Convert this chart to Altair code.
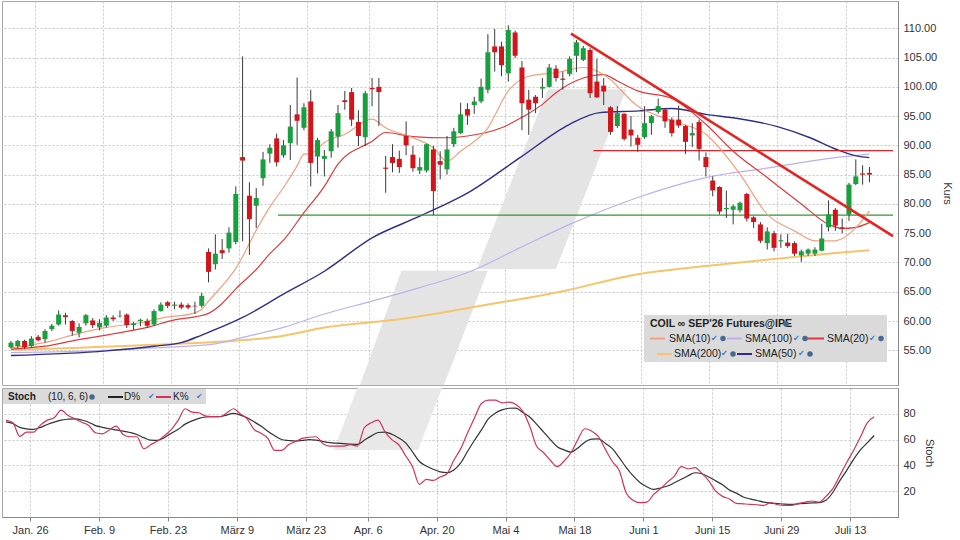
import json
import altair as alt
import pandas as pd

# ------------------------------------------------------------------ data
# trading-day index (0 = first candle); gridlines sit half a day before the labelled date
tick_days = [3.5, 13.5, 23.5, 33.5, 43.5, 52.5, 62.5, 72.5, 82.5, 92.5, 102.5, 112.5, 122.5]
tick_labels = ["Jan. 26", "Feb. 9", "Feb. 23", "März 9", "März 23", "Apr. 6", "Apr. 20",
               "Mai 4", "Mai 18", "Juni 1", "Juni 15", "Juni 29", "Juli 13"]

opens = [55.5, 55.7, 56.6, 55.7, 57.3, 56.9, 58.6, 59.4, 61.0, 60.0,
         58.0, 59.6, 60.1, 58.9, 59.2, 60.6, 60.8, 61.1, 59.3, 60.0,
         60.0, 59.4, 61.7, 63.2, 62.6, 62.8, 62.7, 62.6, 62.6, 71.8,
         69.7, 72.1, 72.4, 73.5, 88.0, 81.4, 79.7, 84.4, 88.6, 91.2,
         88.3, 90.4, 95.3, 93.0, 97.5, 88.1, 87.7, 89.0, 91.5, 97.7,
         99.1, 94.0, 91.4, 99.8, 100.0, 86.2, 88.0, 87.7, 91.6, 88.4,
         85.7, 85.7, 89.3, 87.3, 85.9, 90.2, 92.1, 96.2, 96.9, 97.5,
         99.5, 106.9, 106.9, 102.3, 109.3, 103.3, 97.8, 98.3, 99.7, 100.0,
         103.1, 101.4, 102.2, 105.3, 104.6, 106.3, 100.9, 100.2, 96.5, 93.3,
         95.4, 92.7, 91.3, 91.4, 93.8, 95.7, 96.1, 94.4, 94.4, 93.3,
         91.7, 94.0, 88.0, 84.0, 82.9, 79.1, 79.0, 78.9, 81.7, 77.7,
         76.5, 73.3, 75.0, 73.6, 73.4, 73.3, 71.2, 71.5, 71.5, 72.0,
         76.0, 79.0, 76.0, 78.2, 83.4, 85.2, 85.3]
highs = [56.6, 56.8, 56.8, 57.4, 57.6, 58.6, 59.5, 61.8, 61.4, 60.2,
         59.6, 61.2, 60.5, 60.3, 61.0, 61.0, 61.8, 61.3, 59.8, 60.4,
         60.4, 62.0, 63.2, 63.4, 63.3, 63.2, 63.0, 63.3, 64.8, 72.4,
         74.8, 74.0, 76.0, 83.0, 105.2, 83.7, 82.7, 88.9, 90.2, 92.0,
         90.9, 96.9, 101.6, 97.2, 99.5, 91.3, 89.2, 92.8, 96.9, 99.3,
         99.8, 96.0, 99.3, 101.5, 101.5, 88.2, 90.2, 89.1, 94.1, 89.9,
         87.9, 90.3, 89.9, 89.0, 91.6, 93.0, 97.3, 97.2, 98.3, 101.4,
         109.0, 109.9, 107.7, 110.5, 109.6, 104.4, 99.5, 98.6, 101.5, 103.9,
         103.7, 102.6, 105.2, 108.0, 107.0, 106.6, 104.8, 101.5, 96.7, 96.7,
         95.5, 95.0, 91.8, 96.7, 95.2, 98.0, 96.4, 94.8, 96.8, 93.5,
         93.8, 94.4, 88.8, 84.7, 83.0, 82.3, 79.9, 80.4, 81.9, 77.9,
         76.9, 76.0, 75.4, 74.8, 74.9, 73.6, 72.2, 72.4, 72.6, 76.6,
         80.6, 79.3, 77.5, 83.6, 87.6, 86.6, 86.3]
lows = [55.3, 55.4, 55.2, 55.5, 56.5, 56.3, 58.3, 59.2, 59.4, 57.5,
        57.2, 59.2, 58.8, 58.4, 58.9, 60.0, 60.6, 58.8, 58.5, 59.1,
        58.8, 59.1, 61.6, 62.2, 62.0, 62.0, 62.0, 61.2, 62.3, 66.6,
        68.8, 70.6, 71.7, 73.1, 73.6, 71.3, 75.9, 83.1, 87.0, 86.4,
        87.9, 87.5, 90.1, 92.6, 83.0, 85.2, 84.7, 87.9, 89.6, 96.1,
        93.3, 89.9, 89.9, 96.7, 93.3, 81.9, 85.4, 85.3, 88.3, 85.5,
        85.1, 85.4, 78.1, 84.2, 85.0, 89.7, 91.9, 93.5, 95.4, 97.2,
        98.9, 102.6, 101.8, 100.9, 104.9, 92.6, 91.8, 95.5, 98.1, 99.9,
        100.9, 99.5, 101.8, 102.5, 104.4, 98.1, 98.1, 96.9, 91.8, 93.0,
        90.8, 89.8, 88.9, 91.1, 91.8, 95.4, 93.0, 91.5, 93.0, 88.5,
        89.7, 87.4, 84.7, 81.3, 78.2, 77.6, 76.5, 78.5, 77.0, 75.9,
        73.3, 72.2, 71.9, 72.5, 72.5, 71.1, 70.1, 71.1, 71.1, 71.9,
        75.3, 75.4, 75.0, 77.1, 83.2, 83.3, 83.7]
closes = [56.3, 56.6, 55.5, 57.0, 56.7, 58.3, 59.2, 61.1, 60.7, 58.3,
          59.0, 61.0, 59.3, 59.7, 60.6, 60.3, 60.9, 59.3, 59.6, 60.2,
          59.2, 61.7, 62.8, 62.6, 62.8, 62.3, 62.3, 62.5, 64.3, 68.4,
          71.5, 71.6, 75.1, 81.7, 87.4, 77.4, 81.0, 87.6, 89.6, 87.1,
          90.0, 93.2, 94.2, 96.5, 87.0, 90.9, 88.2, 92.4, 95.5, 97.4,
          94.4, 91.6, 98.9, 99.6, 99.1, 86.0, 87.0, 86.3, 90.0, 86.1,
          86.3, 90.2, 82.2, 86.7, 89.3, 92.4, 95.3, 95.1, 97.5, 100.0,
          105.9, 105.9, 103.7, 109.7, 105.3, 97.2, 96.1, 97.2, 100.0, 103.3,
          101.5, 101.2, 104.8, 107.6, 106.6, 98.9, 98.2, 99.2, 92.3, 95.5,
          91.1, 91.7, 90.1, 93.8, 95.0, 96.7, 94.1, 92.1, 93.4, 90.6,
          92.1, 89.4, 86.3, 82.3, 78.7, 79.3, 79.6, 80.2, 77.5, 76.9,
          73.7, 75.3, 72.5, 73.8, 72.8, 71.5, 71.9, 72.2, 72.2, 74.1,
          78.2, 76.3, 75.8, 83.3, 84.7, 85.0, 85.0]

# moving averages at sample days
sma10_day = [0, 6, 9, 14, 19, 22, 27, 28, 29, 31, 33, 34, 36, 38, 40, 42, 43, 44, 46, 49, 53, 55,
             59, 62, 64, 66, 70, 73, 76, 80, 84, 87, 92, 97, 102, 107, 111, 115, 118, 121, 124, 126]
sma10_val = [55.4, 56.6, 57.6, 58.9, 59.7, 60.5, 61.4, 62.0, 63.4, 66.0, 69.0, 71.0, 75.5, 79.5,
             82.8, 86.5, 88.5, 88.6, 90.5, 91.9, 94.5, 93.0, 91.3, 89.6, 87.3, 89.0, 93.0, 99.3,
             101.8, 102.4, 103.3, 102.1, 96.7, 94.2, 91.9, 85.1, 78.2, 75.4, 73.7, 73.7, 75.9, 78.8]
sma20_day = [0, 5, 9, 14, 20, 24, 27, 29, 31, 33, 36, 38, 40, 43, 46, 48, 53, 55, 59, 64, 67, 72,
             75, 78, 80, 84, 87, 89, 92, 97, 102, 106, 111, 116, 120, 122, 124, 126]
sma20_val = [55.2, 55.7, 56.6, 57.6, 58.9, 60.2, 60.7, 61.3, 63.0, 65.5, 68.8, 71.5, 73.8, 78.5,
             83.0, 86.8, 90.7, 92.2, 91.5, 91.3, 91.6, 93.0, 94.8, 97.0, 99.0, 101.5, 102.1, 101.0,
             99.3, 98.0, 93.6, 89.0, 84.5, 80.0, 76.5, 75.8, 76.0, 76.8]
sma50_day = [0, 14, 21, 25, 28, 34, 40, 46, 53, 60, 67.5, 74.7, 82, 86.4, 92.2, 97, 102, 106.7,
             112.5, 117.3, 121.2, 124.1, 126]
sma50_val = [54.1, 54.9, 55.7, 56.3, 57.6, 60.6, 64.6, 68.5, 74.2, 77.9, 82.2, 87.9, 93.6, 95.6,
             95.9, 96.3, 95.3, 94.6, 93.2, 91.3, 89.3, 88.2, 87.9]
sma100_day = [0, 14, 21, 30, 34, 40, 46, 53, 60, 67.5, 74.7, 82, 92, 102, 111.5, 121, 126]
sma100_val = [54.6, 55.0, 55.4, 56.1, 57.2, 58.9, 61.2, 63.4, 65.7, 68.5, 72.5, 76.5, 81.1, 84.5,
              86.2, 87.9, 88.5]
sma200_day = [0, 9, 20, 30, 40, 46, 57, 69, 81, 92, 102, 112, 121, 126]
sma200_val = [55.1, 55.4, 55.9, 56.4, 57.5, 58.9, 60.3, 62.6, 65.1, 68.0, 69.4, 70.6, 71.6, 72.1]

# stochastic (10, 6, 6), one value per trading day
k_pct = [75, 73, 62.5, 65.8, 65.8, 71.2, 75.1, 76.9, 82.8, 78.7,
         76.1, 73.5, 71.0, 65.3, 64.5, 67.5, 70.5, 64.0, 62.2, 62.2,
         52.9, 56.0, 59.0, 63.0, 68.0, 75.1, 83.9, 81.3, 80.8, 78.2,
         77.8, 77.7, 80.5, 83.9, 80.0, 76.0, 67.9, 65.0, 61.0, 51.6,
         51.6, 56.0, 58.5, 60.9, 61.8, 62.2, 56.8, 55.0, 55.0, 55.0,
         56.0, 55.0, 69.2, 73.0, 75.1, 66.0, 60.0, 56.0, 47.5, 39.0,
         25.3, 29.2, 28.4, 31.0, 33.5, 44.0, 53.0, 65.3, 77.0, 88.0,
         90.6, 90.6, 88.5, 89.0, 87.2, 82.1, 70.5, 55.0, 50.0, 44.0,
         39.0, 43.4, 49.8, 60.1, 68.4, 66.6, 62.2, 52.4, 43.0, 36.0,
         18.8, 13.0, 11.1, 11.5, 17.5, 22.0, 27.0, 31.7, 39.0, 37.4,
         38.2, 33.8, 28.0, 20.0, 16.0, 14.0, 10.6, 10.2, 9.8, 9.5,
         9.0, 11.1, 9.5, 9.0, 9.0, 10.6, 11.5, 12.4, 11.5, 16.0,
         22.0, 32.0, 42.0, 51.5, 62.0, 73.0, 77.7]
d_pct = [73.8, 72.5, 69.5, 68.3, 67.9, 69.5, 71.7, 73.5, 75.1, 75.8,
         76.1, 75.2, 73.5, 70.8, 69.5, 68.4, 67.5, 66.6, 65.5, 64.0,
         61.5, 59.6, 59.4, 61.5, 65.0, 68.0, 72.0, 74.5, 76.5, 77.5,
         77.8, 77.7, 79.0, 80.3, 79.0, 76.9, 73.8, 70.5, 66.5, 63.0,
         60.1, 59.3, 58.8, 59.3, 60.0, 59.6, 58.5, 57.6, 57.2, 56.9,
         56.5, 56.3, 59.5, 62.7, 65.5, 65.8, 64.2, 61.3, 57.5, 50.5,
         43.0, 39.5, 37.0, 35.0, 34.4, 36.5, 42.0, 51.0, 59.5, 67.5,
         76.0, 80.5, 83.0, 84.3, 84.4, 81.0, 77.5, 72.0, 66.0, 60.0,
         54.5, 52.0, 50.3, 53.5, 58.0, 60.3, 60.6, 57.0, 53.0, 46.0,
         38.5, 32.0, 26.8, 23.5, 21.4, 22.5, 24.0, 26.5, 29.2, 32.0,
         34.3, 33.5, 31.0, 28.0, 25.0, 21.0, 18.5, 15.5, 14.0, 12.8,
         11.5, 10.8, 10.4, 10.0, 9.8, 10.2, 10.6, 10.9, 11.1, 13.0,
         19.0, 28.0, 36.0, 44.5, 52.0, 57.5, 63.2]

# drawn-in analysis lines
trend_day = [82.2, 129.46]
trend_val = [109.1, 74.5]
resist_day = [85.5, 129.46]
resist_val = [89.1, 89.1]
support_day = [39.2, 129.46]
support_val = [78.1, 78.1]

# background logo (slanted bands): value, left day, right day
logo_a_val = [99.6, 68.9]
logo_a_left = [78.8, 68.4]
logo_a_right = [90.3, 80.0]
logo_b_val = [68.6, 48.0]
logo_b_left = [57.3, 50.9]
logo_b_right = [70.0, 63.2]
logo_c_val = [103.1, 51.9]
logo_c_left = [51.2, 47.6]
logo_c_right = [63.5, 59.8]

# ------------------------------------------------------------------ tables
days = list(range(len(opens)))
candles = pd.DataFrame({"day": days, "open": opens, "high": highs, "low": lows, "close": closes})
candles["dir"] = ["up" if c >= o else "down" for o, c in zip(opens, closes)]


def series(d, v):
    return pd.DataFrame({"day": d, "v": v})


stoch = pd.DataFrame({"day": days, "K": k_pct, "D": d_pct})

# ------------------------------------------------------------------ scales / axes
X_DOM = [-0.58, 129.46]
Y_DOM = [49.07, 114.66]
W = 896
H_UP = 384
H_LO = 129
GRID = "#c6c6c6"
FONT = "Liberation Sans"

label_expr = ("%s[indexof(%s, datum.value)]" %
              (json.dumps(tick_labels, ensure_ascii=False), json.dumps(tick_days)))

x_scale = alt.Scale(domain=X_DOM, nice=False, zero=False)
ax_up = alt.Axis(values=tick_days, grid=True, gridColor=GRID, gridDash=[2, 2], labels=False,
                 ticks=False, domain=False, title=None)
ax_lo = alt.Axis(values=tick_days, grid=True, gridColor=GRID, gridDash=[2, 2], labelExpr=label_expr,
                 tickSize=4, tickColor="#888", domainColor="#888", labelColor="#333",
                 labelFontSize=11, labelFont=FONT, labelPadding=3, title=None)


def XU(f):
    return alt.X(f, type="quantitative", scale=x_scale, axis=ax_up)


def XL(f):
    return alt.X(f, type="quantitative", scale=x_scale, axis=ax_lo)


y_up_scale = alt.Scale(domain=Y_DOM, nice=False, zero=False)
y_up_axis = alt.Axis(orient="right", values=list(range(55, 111, 5)), format=".2f", grid=True,
                     gridColor=GRID, gridDash=[2, 2], ticks=False, domainColor="#888",
                     labelColor="#333", labelFontSize=11, labelFont=FONT, labelPadding=5,
                     title="Kurs", titleFontWeight="normal", titleColor="#333", titleFontSize=11,
                     titleFont=FONT, titlePadding=5)


def YU(f):
    return alt.Y(f, type="quantitative", scale=y_up_scale, axis=y_up_axis)


y_lo_scale = alt.Scale(domain=[0, 100], nice=False, zero=False)
y_lo_axis = alt.Axis(orient="right", values=[20, 40, 60, 80], grid=True, gridColor=GRID,
                     gridDash=[2, 2], ticks=False, domainColor="#888", labelColor="#333",
                     labelFontSize=11, labelFont=FONT, labelPadding=5, title="Stoch",
                     titleFontWeight="normal", titleColor="#333", titleFontSize=11,
                     titleFont=FONT, titlePadding=8)


def YL(f):
    return alt.Y(f, type="quantitative", scale=y_lo_scale, axis=y_lo_axis)


one = pd.DataFrame({"k": [0]})


def txt(s, x, y, size=10.5, bold=False, color="#222", font=FONT):
    return alt.Chart(pd.DataFrame({"t": [s]})).mark_text(
        align="left", baseline="middle", fontSize=size, font=font,
        fontWeight="bold" if bold else "normal", color=color
    ).encode(x=alt.value(x), y=alt.value(y), text="t:N")


def seg(x1, x2, y, color, w=2):
    return alt.Chart(one).mark_rule(color=color, strokeWidth=w).encode(
        x=alt.value(x1), x2=alt.value(x2), y=alt.value(y))


def globe(x, y):
    return alt.Chart(one).mark_circle(size=30, color="#46698f", opacity=1).encode(
        x=alt.value(x), y=alt.value(y))


def check(x, y):
    return txt("✔", x - 2, y, size=8, color="#3d7cc9", font="DejaVu Sans")


def band(vals, left, right, yfun, xfun, color="#e4e4e4"):
    df = pd.DataFrame({"v": vals, "l": left, "r": right})
    return alt.Chart(df).mark_area(orient="horizontal", color=color, clip=True).encode(
        y=yfun("v"), x=xfun("l"), x2="r")


# ------------------------------------------------------------------ upper panel
C_SMA10 = "#f3a07c"
C_SMA20 = "#e0393b"
C_SMA50 = "#2e2e8a"
C_SMA100 = "#bdb0ee"
C_SMA200 = "#f6c46a"


def sma_line(d, v, color, w):
    return alt.Chart(series(d, v)).mark_line(color=color, strokeWidth=w, interpolate="monotone",
                                             clip=True).encode(x=XU("day"), y=YU("v"))


wicks = alt.Chart(candles).mark_rule(color="#3a3a3a", strokeWidth=1).encode(
    x=XU("day"), y=YU("low"), y2="high")
bodies = alt.Chart(candles).mark_bar(size=5).encode(
    x=XU("day"), y=YU("open"), y2="close",
    color=alt.Color("dir:N", scale=alt.Scale(domain=["up", "down"], range=["#18a03e", "#d3141a"]),
                    legend=None))

trend = alt.Chart(series(trend_day, trend_val)).mark_line(color="#e62320", strokeWidth=2.6,
                                                          clip=True).encode(x=XU("day"), y=YU("v"))
resist = alt.Chart(series(resist_day, resist_val)).mark_line(color="#d8262a", strokeWidth=1.2).encode(
    x=XU("day"), y=YU("v"))
support = alt.Chart(series(support_day, support_val)).mark_line(color="#2d9a2d", strokeWidth=1.2).encode(
    x=XU("day"), y=YU("v"))

legend_layers = [
    alt.Chart(one).mark_rect(color="#dadada").encode(
        x=alt.value(642), x2=alt.value(885), y=alt.value(314), y2=alt.value(361)),
    txt("COIL ∞ SEP'26 Futures@IPE", 648, 323, bold=True),
    globe(784, 323),
    seg(648, 663, 337.5, C_SMA10), txt("SMA(10)", 667, 337.5), check(711, 337.5), globe(721, 337.5),
    seg(725, 740, 337.5, C_SMA100), txt("SMA(100)", 743, 337.5), check(793, 337.5), globe(803, 337.5),
    seg(805, 822, 337.5, C_SMA20), txt("SMA(20)", 825, 337.5), check(869, 337.5), globe(879, 337.5),
    seg(655, 670, 353, C_SMA200), txt("SMA(200)", 672, 353), check(721, 353), globe(731, 353),
    seg(735, 750, 353, C_SMA50), txt("SMA(50)", 753, 353), check(798, 353), globe(808, 353),
]

upper = alt.layer(
    band(logo_a_val, logo_a_left, logo_a_right, YU, XU),
    band(logo_b_val, logo_b_left, logo_b_right, YU, XU),
    sma_line(sma200_day, sma200_val, C_SMA200, 2.0),
    sma_line(sma100_day, sma100_val, C_SMA100, 1.2),
    sma_line(sma50_day, sma50_val, C_SMA50, 1.4),
    resist, support,
    sma_line(sma20_day, sma20_val, C_SMA20, 1.2),
    sma_line(sma10_day, sma10_val, C_SMA10, 1.2),
    wicks, bodies,
    trend,
    *legend_layers,
).properties(width=W, height=H_UP)

# ------------------------------------------------------------------ lower panel
k_line = alt.Chart(stoch).mark_line(color="#d3325f", strokeWidth=1.2, interpolate="monotone").encode(
    x=XL("day"), y=YL("K"))
d_line = alt.Chart(stoch).mark_line(color="#333333", strokeWidth=1.2, interpolate="monotone").encode(
    x=XL("day"), y=YL("D"))

header = [
    alt.Chart(one).mark_rect(color="#dadada").encode(
        x=alt.value(1), x2=alt.value(204), y=alt.value(1), y2=alt.value(16)),
    txt("Stoch", 6, 9, size=10, bold=True),
    txt("(10, 6, 6)", 46, 9, size=10),
    globe(90, 9),
    seg(106, 121, 9, "#222222"), txt("D%", 122, 9, size=10), check(148, 9),
    seg(154, 169, 9, "#d3325f"), txt("K%", 171, 9, size=10), check(196, 9),
]

lower = alt.layer(
    band(logo_c_val, logo_c_left, logo_c_right, YL, XL, color="#e8e8e8"),
    d_line, k_line,
    *header,
).properties(width=W, height=H_LO)

chart = alt.vconcat(upper, lower, spacing=1).properties(
    padding={"left": 1, "top": 0, "right": 0, "bottom": 0},
    background="white",
).configure_view(stroke="#a8a8a8", strokeWidth=1)

chart.save("out.html", embed_options={"renderer": "svg", "actions": False})
